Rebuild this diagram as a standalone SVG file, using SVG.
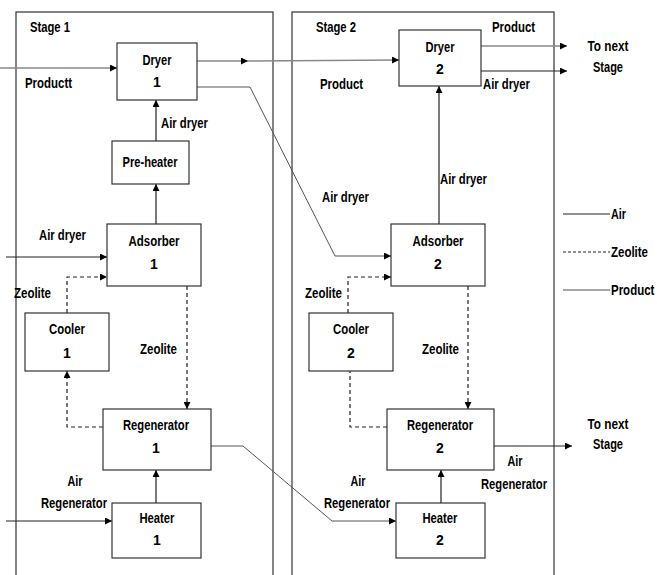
<svg xmlns="http://www.w3.org/2000/svg" width="657" height="575" viewBox="0 0 657 575">
<defs>
<marker id="ah" viewBox="0 0 10 10" refX="10" refY="5" markerWidth="7" markerHeight="7" markerUnits="userSpaceOnUse" orient="auto">
<path d="M0,0 L10,5 L0,10 z" fill="#000"/>
</marker>
</defs>
<style>
text{font-family:"Liberation Sans",Arial,sans-serif;font-weight:bold;font-size:14px;fill:#000}
.c{text-anchor:middle}
.box{fill:#fff;stroke:#333;stroke-width:1.2}
.stage{fill:none;stroke:#333;stroke-width:1.2}
.air{fill:none;stroke:#222;stroke-width:1.2}
.airg{fill:none;stroke:#555;stroke-width:1}
.zeo{fill:none;stroke:#222;stroke-width:1.2;stroke-dasharray:4,3}
.prod{fill:none;stroke:#888;stroke-width:1.5}
</style>
<rect width="657" height="575" fill="#fff"/>
<g id="stage1"><rect class="stage" x="16" y="12" width="257" height="580"/><text x="30" y="32" textLength="40" lengthAdjust="spacingAndGlyphs">Stage 1</text></g>
<g id="stage2"><rect class="stage" x="292" y="12" width="262" height="580"/><text x="316" y="32" textLength="40" lengthAdjust="spacingAndGlyphs">Stage 2</text></g>

<g id="connectors">
<line class="prod" x1="0" y1="68" x2="117" y2="68" marker-end="url(#ah)"/>
<line class="prod" x1="197" y1="61" x2="248" y2="61" marker-end="url(#ah)"/>
<line class="prod" x1="248" y1="61" x2="399" y2="60" marker-end="url(#ah)"/>
<polyline class="airg" points="197,87 250,87 335,256 391,256" marker-end="url(#ah)"/>
<line class="air" x1="156" y1="141" x2="156" y2="100" marker-end="url(#ah)"/>
<line class="air" x1="156" y1="224" x2="156" y2="184" marker-end="url(#ah)"/>
<line class="air" x1="6" y1="257" x2="107" y2="257" marker-end="url(#ah)"/>
<polyline class="zeo" points="67,313 67,277 107,277" marker-end="url(#ah)"/>
<line class="zeo" x1="187" y1="286" x2="187" y2="409" marker-end="url(#ah)"/>
<polyline class="zeo" points="103,427 67,427 67,371" marker-end="url(#ah)"/>
<polyline class="airg" points="211,446 243,446 332,521 396,521" marker-end="url(#ah)"/>
<line class="air" x1="156" y1="503" x2="156" y2="470" marker-end="url(#ah)"/>
<line class="air" x1="6" y1="521" x2="112" y2="521" marker-end="url(#ah)"/>
<line class="prod" x1="481" y1="46" x2="567" y2="46" marker-end="url(#ah)"/>
<line class="air" x1="481" y1="71" x2="567" y2="71" marker-end="url(#ah)"/>
<line class="air" x1="439" y1="224" x2="439" y2="86" marker-end="url(#ah)"/>
<polyline class="zeo" points="348,313 348,277 391,277" marker-end="url(#ah)"/>
<line class="zeo" x1="468" y1="286" x2="468" y2="409" marker-end="url(#ah)"/>
<polyline class="zeo" points="387,427 350,427 350,371"/>
<line class="air" x1="494" y1="446" x2="572" y2="446" marker-end="url(#ah)"/>
<line class="air" x1="441" y1="503" x2="441" y2="470" marker-end="url(#ah)"/>
</g>

<g id="dryer1"><rect class="box" x="117" y="43" width="80" height="57"/><text class="c" x="157" y="65" textLength="29" lengthAdjust="spacingAndGlyphs">Dryer</text><text class="c" x="157" y="87">1</text></g>
<g id="preheater"><rect class="box" x="112" y="141" width="77" height="43"/><text class="c" x="150" y="167" textLength="55" lengthAdjust="spacingAndGlyphs">Pre-heater</text></g>
<g id="adsorber1"><rect class="box" x="107" y="224" width="94" height="62"/><text class="c" x="154" y="246" textLength="51" lengthAdjust="spacingAndGlyphs">Adsorber</text><text class="c" x="154" y="269">1</text></g>
<g id="cooler1"><rect class="box" x="25" y="313" width="84" height="58"/><text class="c" x="67" y="334" textLength="36" lengthAdjust="spacingAndGlyphs">Cooler</text><text class="c" x="67" y="358">1</text></g>
<g id="regenerator1"><rect class="box" x="103" y="409" width="108" height="61"/><text class="c" x="156" y="430" textLength="66" lengthAdjust="spacingAndGlyphs">Regenerator</text><text class="c" x="156" y="453">1</text></g>
<g id="heater1"><rect class="box" x="112" y="503" width="89" height="55"/><text class="c" x="157" y="523" textLength="35" lengthAdjust="spacingAndGlyphs">Heater</text><text class="c" x="157" y="545">1</text></g>

<g id="dryer2"><rect class="box" x="399" y="30" width="82" height="56"/><text class="c" x="440" y="52" textLength="29" lengthAdjust="spacingAndGlyphs">Dryer</text><text class="c" x="440" y="74">2</text></g>
<g id="adsorber2"><rect class="box" x="391" y="224" width="94" height="62"/><text class="c" x="438" y="246" textLength="51" lengthAdjust="spacingAndGlyphs">Adsorber</text><text class="c" x="438" y="269">2</text></g>
<g id="cooler2"><rect class="box" x="309" y="313" width="84" height="58"/><text class="c" x="351" y="334" textLength="36" lengthAdjust="spacingAndGlyphs">Cooler</text><text class="c" x="351" y="358">2</text></g>
<g id="regenerator2"><rect class="box" x="387" y="409" width="107" height="61"/><text class="c" x="440" y="430" textLength="66" lengthAdjust="spacingAndGlyphs">Regenerator</text><text class="c" x="440" y="453">2</text></g>
<g id="heater2"><rect class="box" x="396" y="503" width="89" height="55"/><text class="c" x="440" y="523" textLength="35" lengthAdjust="spacingAndGlyphs">Heater</text><text class="c" x="440" y="545">2</text></g>

<g id="labels">
<text x="25" y="88" textLength="47" lengthAdjust="spacingAndGlyphs">Productt</text>
<text x="161" y="128" textLength="47" lengthAdjust="spacingAndGlyphs">Air dryer</text>
<text x="39" y="240" textLength="47" lengthAdjust="spacingAndGlyphs">Air dryer</text>
<text x="14" y="298" textLength="37" lengthAdjust="spacingAndGlyphs">Zeolite</text>
<text x="140" y="354" textLength="37" lengthAdjust="spacingAndGlyphs">Zeolite</text>
<text class="c" x="75" y="486" textLength="15" lengthAdjust="spacingAndGlyphs">Air</text>
<text class="c" x="74" y="508" textLength="66" lengthAdjust="spacingAndGlyphs">Regenerator</text>
<text x="492" y="32" textLength="43" lengthAdjust="spacingAndGlyphs">Product</text>
<text x="320" y="89" textLength="43" lengthAdjust="spacingAndGlyphs">Product</text>
<text x="483" y="89" textLength="47" lengthAdjust="spacingAndGlyphs">Air dryer</text>
<text class="c" x="608" y="51" textLength="41" lengthAdjust="spacingAndGlyphs">To next</text>
<text class="c" x="608" y="72" textLength="30" lengthAdjust="spacingAndGlyphs">Stage</text>
<text x="440" y="184" textLength="47" lengthAdjust="spacingAndGlyphs">Air dryer</text>
<text x="322" y="202" textLength="47" lengthAdjust="spacingAndGlyphs">Air dryer</text>
<text x="305" y="298" textLength="37" lengthAdjust="spacingAndGlyphs">Zeolite</text>
<text x="422" y="354" textLength="37" lengthAdjust="spacingAndGlyphs">Zeolite</text>
<text class="c" x="358" y="486" textLength="15" lengthAdjust="spacingAndGlyphs">Air</text>
<text class="c" x="357" y="508" textLength="66" lengthAdjust="spacingAndGlyphs">Regenerator</text>
<text class="c" x="515" y="466" textLength="15" lengthAdjust="spacingAndGlyphs">Air</text>
<text class="c" x="514" y="489" textLength="66" lengthAdjust="spacingAndGlyphs">Regenerator</text>
<text class="c" x="608" y="429" textLength="41" lengthAdjust="spacingAndGlyphs">To next</text>
<text class="c" x="608" y="449" textLength="30" lengthAdjust="spacingAndGlyphs">Stage</text>
</g>

<g id="legend">
<line class="air" x1="563" y1="214" x2="610" y2="214"/><text x="611" y="219" textLength="15" lengthAdjust="spacingAndGlyphs">Air</text>
<line class="zeo" x1="563" y1="252" x2="610" y2="252" style="stroke-dasharray:3,2"/><text x="611" y="257" textLength="37" lengthAdjust="spacingAndGlyphs">Zeolite</text>
<line class="prod" x1="563" y1="290" x2="610" y2="290"/><text transform="translate(611,295) scale(0.82,1)" x="0" y="0">Product</text>
</g>
</svg>
